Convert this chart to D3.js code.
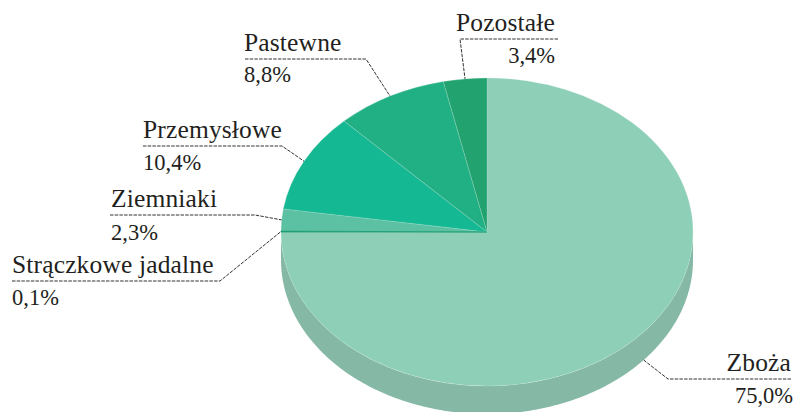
<!DOCTYPE html>
<html><head><meta charset="utf-8">
<script src="https://cdn.jsdelivr.net/npm/d3@7/dist/d3.min.js"></script>
<style>html,body{margin:0;padding:0;background:#fff}svg{display:block}</style>
</head><body><svg id="c" width="795" height="412"></svg>
<script>
const categories=["Zboża","Strączkowe jadalne","Ziemniaki","Przemysłowe","Pastewne","Pozostałe"];
const values=[75.0,0.1,2.3,10.4,8.8,3.4];
const valueLabels=["75,0%","0,1%","2,3%","10,4%","8,8%","3,4%"];
const colors=["#8ecfb8","#1f9e72","#5cc1a2","#14b892","#20b083","#21a26f"];
const sideColor="#85b9a6";

const W=795,H=412,cx=487,cy=232,rx=206,ry=154,depth=28,fs=25.5,vfs=22.5;
const fontName="Liberation Serif";
const layout=[
 {x:791,a:"end",vx:793,base:371,vbase:403,rule:[791,668],nudge:-4.5,edge:depth},
 {x:12,a:"start",vx:12,base:273,vbase:305,rule:[12,220],nudge:0,edge:0},
 {x:111,a:"start",vx:111,base:207,vbase:240,rule:[110,255],nudge:0,edge:0},
 {x:143,a:"start",vx:143,base:138,vbase:170,rule:[143,282],nudge:0,edge:0},
 {x:244,a:"start",vx:244,base:51,vbase:82,rule:[245,366],nudge:0,edge:0},
 {x:555,a:"end",vx:555,base:31,vbase:63,rule:[558,460],nudge:0,edge:0}
];

const svg=d3.select("#c");
const pie=d3.pie().sort(null).value(d=>d)(values);
const ex=a=>cx+rx*Math.sin(a), ey=a=>cy-ry*Math.cos(a);

const side=d3.area().x(a=>ex(a)).y0(a=>ey(a)).y1(a=>ey(a)+depth);
svg.append("path").attr("fill",sideColor)
  .attr("d",side(d3.range(Math.PI/2,Math.PI*1.5+0.001,Math.PI/180)));

const arc=d3.arc().innerRadius(0).outerRadius(1);
const face=svg.append("g").attr("transform",`translate(${cx},${cy}) scale(${rx},${ry})`);
face.selectAll("path").data(pie).join("path")
  .attr("d",arc).attr("fill",(d,i)=>colors[i])
  .attr("stroke",(d,i)=>i===1?colors[1]:"#bfe5d6")
  .attr("stroke-width",(d,i)=>i===1?0.8:0.5).attr("stroke-opacity",(d,i)=>i===1?1:0.5)
  .attr("vector-effect","non-scaling-stroke")
  .filter((d,i)=>i===1).raise();

pie.forEach((d,i)=>{
  const L=layout[i], mid=(d.startAngle+d.endAngle)/2+L.nudge*Math.PI/180;
  const pts=[[L.rule[0],L.base+8],[L.rule[1],L.base+8],[ex(mid),ey(mid)+L.edge]];
  svg.append("path").attr("d",d3.line()(pts)).attr("fill","none")
    .attr("stroke","#333").attr("stroke-width",1).attr("stroke-dasharray","3.5 1.2");
  svg.append("text").attr("x",L.x).attr("y",L.base).attr("text-anchor",L.a)
    .style("font-family",fontName).style("fill","#231f20")
    .attr("font-size",fs).attr("letter-spacing",0.15).text(categories[i]);
  svg.append("text").attr("x",L.vx).attr("y",L.vbase).attr("text-anchor",L.a)
    .style("font-family",fontName).style("fill","#231f20")
    .attr("font-size",vfs).text(valueLabels[i]);
});
</script></body></html>
